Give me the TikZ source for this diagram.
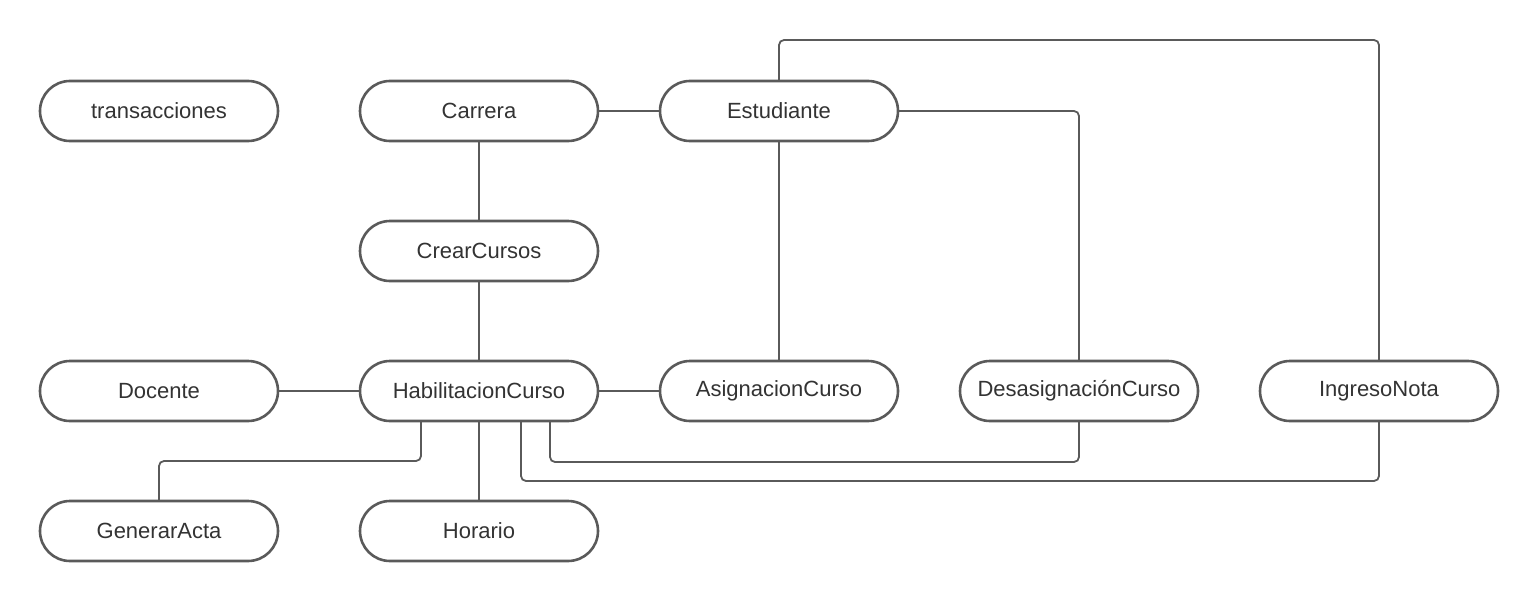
\documentclass[tikz,border=0pt]{standalone}
\usepackage{fontspec}
\setmainfont{Liberation Sans}
\usetikzlibrary{positioning}
\definecolor{linegray}{HTML}{5A5A5A}
\definecolor{textgray}{HTML}{333333}

\begin{document}
\begin{tikzpicture}[x=1pt,y=1pt,every node/.style={draw=linegray,fill=white,line width=2.6pt,outer sep=0pt,rounded corners=30pt,minimum width=238pt,minimum height=60pt,text=textgray,font=\fontsize{22}{26}\selectfont},node distance=80pt and 62pt,link/.style={draw=linegray,line width=1.8pt,rounded corners=5pt}]
	
	\useasboundingbox (0,0) rectangle (1538,-602);
	
	\node (transacciones) at (159,-111) {transacciones};
	\node (carrera) at (479,-111) {Carrera};
	\node[right=of carrera] (estudiante) {Estudiante};
	\node[below=of carrera] (crearcursos) {CrearCursos};
	\node[below=of crearcursos] (habilitacion) {HabilitacionCurso};
	\node[left=82pt of habilitacion] (docente) {Docente};
	\node[right=of habilitacion] (asignacion) {AsignacionCurso};
	\node[right=of asignacion] (desasignacion) {DesasignaciónCurso};
	\node[right=of desasignacion] (ingreso) {IngresoNota};
	\node[below=of docente] (generar) {GenerarActa};
	\node[below=of habilitacion] (horario) {Horario};
	
	% heights of the long runs
	\coordinate (toprun) at (0,-40);
	\coordinate (actarun) at (0,-461);
	\coordinate (desrun) at (0,-462);
	\coordinate (notarun) at (0,-481);
	\coordinate (hacta) at ([xshift=-58pt]habilitacion.south);
	\coordinate (hnota) at ([xshift=42pt]habilitacion.south);
	\coordinate (hdes) at ([xshift=71pt]habilitacion.south);
	
	\draw[link] (carrera) -- (estudiante);
	\draw[link] (carrera) -- (crearcursos);
	\draw[link] (crearcursos) -- (habilitacion);
	\draw[link] (docente) -- (habilitacion);
	\draw[link] (habilitacion) -- (asignacion);
	\draw[link] (habilitacion) -- (horario);
	\draw[link] (estudiante) -- (asignacion);
	\draw[link] (estudiante.east) -| (desasignacion.north);
	\draw[link] (estudiante.north) -- (estudiante.north |- toprun) -| (ingreso.north);
	\draw[link] (hacta) -- (hacta |- actarun) -| (generar.north);
	\draw[link] (hdes) -- (hdes |- desrun) -| (desasignacion.south);
	\draw[link] (hnota) -- (hnota |- notarun) -| (ingreso.south);
	
\end{tikzpicture}
\end{document}
